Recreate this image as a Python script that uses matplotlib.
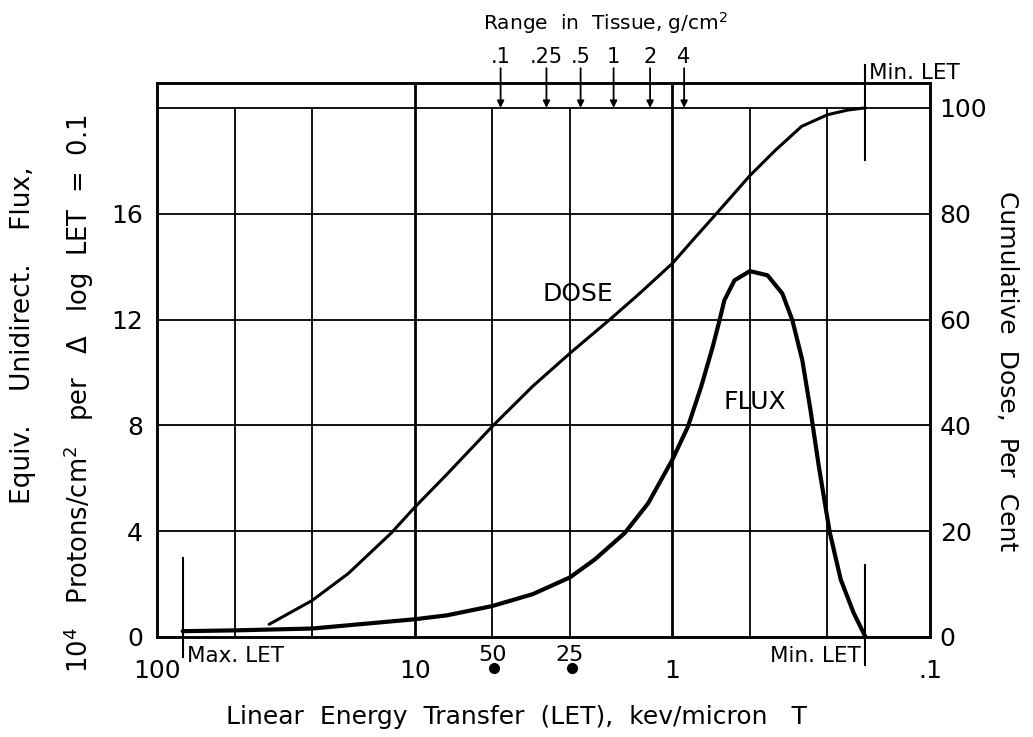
import matplotlib
matplotlib.use("Agg")
import matplotlib.pyplot as plt
from matplotlib.ticker import NullLocator

plt.rcParams['font.family'] = ['DejaVu Sans']

# ---------------- data ----------------
# Flux curve (left axis, 10^4 protons/cm^2 per dlogLET=0.1)
flux_let = [79.5, 50, 25, 10, 7.48, 5, 3.48, 2.5, 2.0, 1.53, 1.24, 1.0, 0.87,
            0.773, 0.697, 0.656, 0.628, 0.574, 0.5, 0.427, 0.374, 0.342, 0.313,
            0.291, 0.270, 0.245, 0.222, 0.198, 0.178]
flux_val = [0.22, 0.25, 0.32, 0.67, 0.82, 1.17, 1.62, 2.25, 2.93, 3.93, 5.06,
            6.70, 7.95, 9.46, 10.97, 11.97, 12.73, 13.48, 13.83, 13.67, 12.98,
            11.97, 10.46, 8.58, 6.44, 3.96, 2.17, 0.92, 0.0]

# Cumulative dose curve (right axis, per cent)
dose_let = [36.7, 25, 18.1, 12.3, 10, 7.48, 5, 3.48, 2.5, 1.71, 1.335, 1.0,
            0.809, 0.658, 0.5, 0.398, 0.315, 0.25, 0.208, 0.178]
dose_pct = [2.4, 6.9, 12.0, 19.7, 24.5, 30.8, 39.8, 47.4, 53.6, 60.4, 65.0,
            70.6, 75.7, 80.6, 87.2, 92.0, 96.5, 98.7, 99.6, 100.0]

# Range in tissue markers (top)
range_labels = ['.1', '.25', '.5', '1', '2', '4']
range_let = [4.64, 3.08, 2.27, 1.69, 1.22, 0.90]

x_ticks = [100, 10, 1, 0.1]
x_ticklabels = ['100', '10', '1', '.1']
left_ticks = [0, 4, 8, 12, 16]
right_ticks = [0, 20, 40, 60, 80, 100]
minor_grid = [50, 25, 5, 2.5, 0.5, 0.25]
major_grid = [10, 1]
h_grid = [4, 8, 12, 16, 20]

max_let = 79.5
min_let = 0.178

energy_labels = ['50', '25']
energy_let = [5.0, 2.5]

# ---------------- figure ----------------
W, H = 1033, 737
fig = plt.figure(figsize=(W / 100, H / 100), dpi=100)
L, R, T, B = 157, 930, 83, 637
ax = fig.add_axes([L / W, 1 - B / H, (R - L) / W, (B - T) / H])
ax.set_xscale('log')
ax.set_xlim(100, 0.1)
ymax = 20.94
ax.set_ylim(0, ymax)
ax.xaxis.set_minor_locator(NullLocator())

for s in ax.spines.values():
    s.set_linewidth(1.8)

for v in h_grid:
    ax.axhline(v, color='k', lw=1.3, zorder=1)
for x in minor_grid:
    ax.plot([x, x], [0, 20], color='k', lw=1.3, zorder=1)
for x in major_grid:
    ax.axvline(x, color='k', lw=2.0, zorder=1)

ax.plot(flux_let, flux_val, color='k', lw=3.0, solid_capstyle='round',
        solid_joinstyle='round', zorder=3)

ax.set_xticks(x_ticks)
ax.set_xticklabels(x_ticklabels)
ax.tick_params(axis='x', length=0, pad=16, labelsize=18)
ax.set_yticks(left_ticks)
ax.set_yticklabels([str(v) for v in left_ticks])
ax.tick_params(axis='y', length=0, pad=10, labelsize=18)

ax2 = ax.twinx()
ax2.set_ylim(0, ymax * 5)
ax2.set_yticks(right_ticks)
ax2.set_yticklabels([str(v) for v in right_ticks])
ax2.tick_params(axis='y', length=0, pad=7, labelsize=18)
for s in ax2.spines.values():
    s.set_linewidth(1.8)
ax2.plot(dose_let, dose_pct, color='k', lw=2.2, solid_capstyle='round',
         solid_joinstyle='round', zorder=3)

# Max / Min LET markers
ax.plot([max_let, max_let], [-0.75, 3.0], color='k', lw=1.5, clip_on=False)
ax.text(max_let * 0.96, -0.72, 'Max. LET', fontsize=15.5, ha='left', va='center')
ax.plot([min_let, min_let], [-1.05, 2.72], color='k', lw=1.5, clip_on=False)
ax.text(min_let * 1.04, -0.72, 'Min. LET', fontsize=15.5, ha='right', va='center')
ax.plot([min_let, min_let], [18.03, 21.63], color='k', lw=1.5, clip_on=False)
ax.text(min_let * 0.97, 21.3, 'Min. LET', fontsize=15.5, ha='left', va='center')

# energy markers under axis
for lab, e in zip(energy_labels, energy_let):
    ax.text(e, -0.68, lab, fontsize=16, ha='center', va='center')
    ax.plot([e * 0.98], [-1.17], 'o', color='k', ms=7, clip_on=False)

# Range in tissue arrows
for lab, rl in zip(range_labels, range_let):
    ax.annotate('', xy=(rl, 20), xytext=(rl, 21.5),
                arrowprops=dict(arrowstyle='-|>', color='k', lw=1.3,
                                mutation_scale=10, shrinkA=0, shrinkB=0),
                annotation_clip=False)
    ax.text(rl, 21.92, lab, fontsize=15, ha='center', va='center')

fig.text(605 / W, 1 - 23 / H, 'Range  in  Tissue, g/cm$^2$', fontsize=14.5,
         ha='center', va='center')

# curve labels
ax.text(2.33, 12.97, 'DOSE', fontsize=18, ha='center', va='center')
ax.text(0.48, 8.88, 'FLUX', fontsize=18, ha='center', va='center')

# axis labels
fig.text(516 / W, 1 - 717 / H, 'Linear  Energy  Transfer  (LET),  kev/micron   T',
         fontsize=18, ha='center', va='center')
fig.text(23 / W, 1 - 335 / H, 'Equiv.    Unidirect.    Flux,', fontsize=19,
         rotation=90, ha='center', va='center')
fig.text(79 / W, 1 - 394 / H,
         '10$^4$   Protons/cm$^2$   per   \u0394   log  LET  =  0.1', fontsize=18.5,
         rotation=90, ha='center', va='center')
fig.text(1007 / W, 1 - 371 / H, 'Cumulative  Dose,  Per  Cent', fontsize=18,
         rotation=270, ha='center', va='center')

fig.savefig('out.png', dpi=100)
